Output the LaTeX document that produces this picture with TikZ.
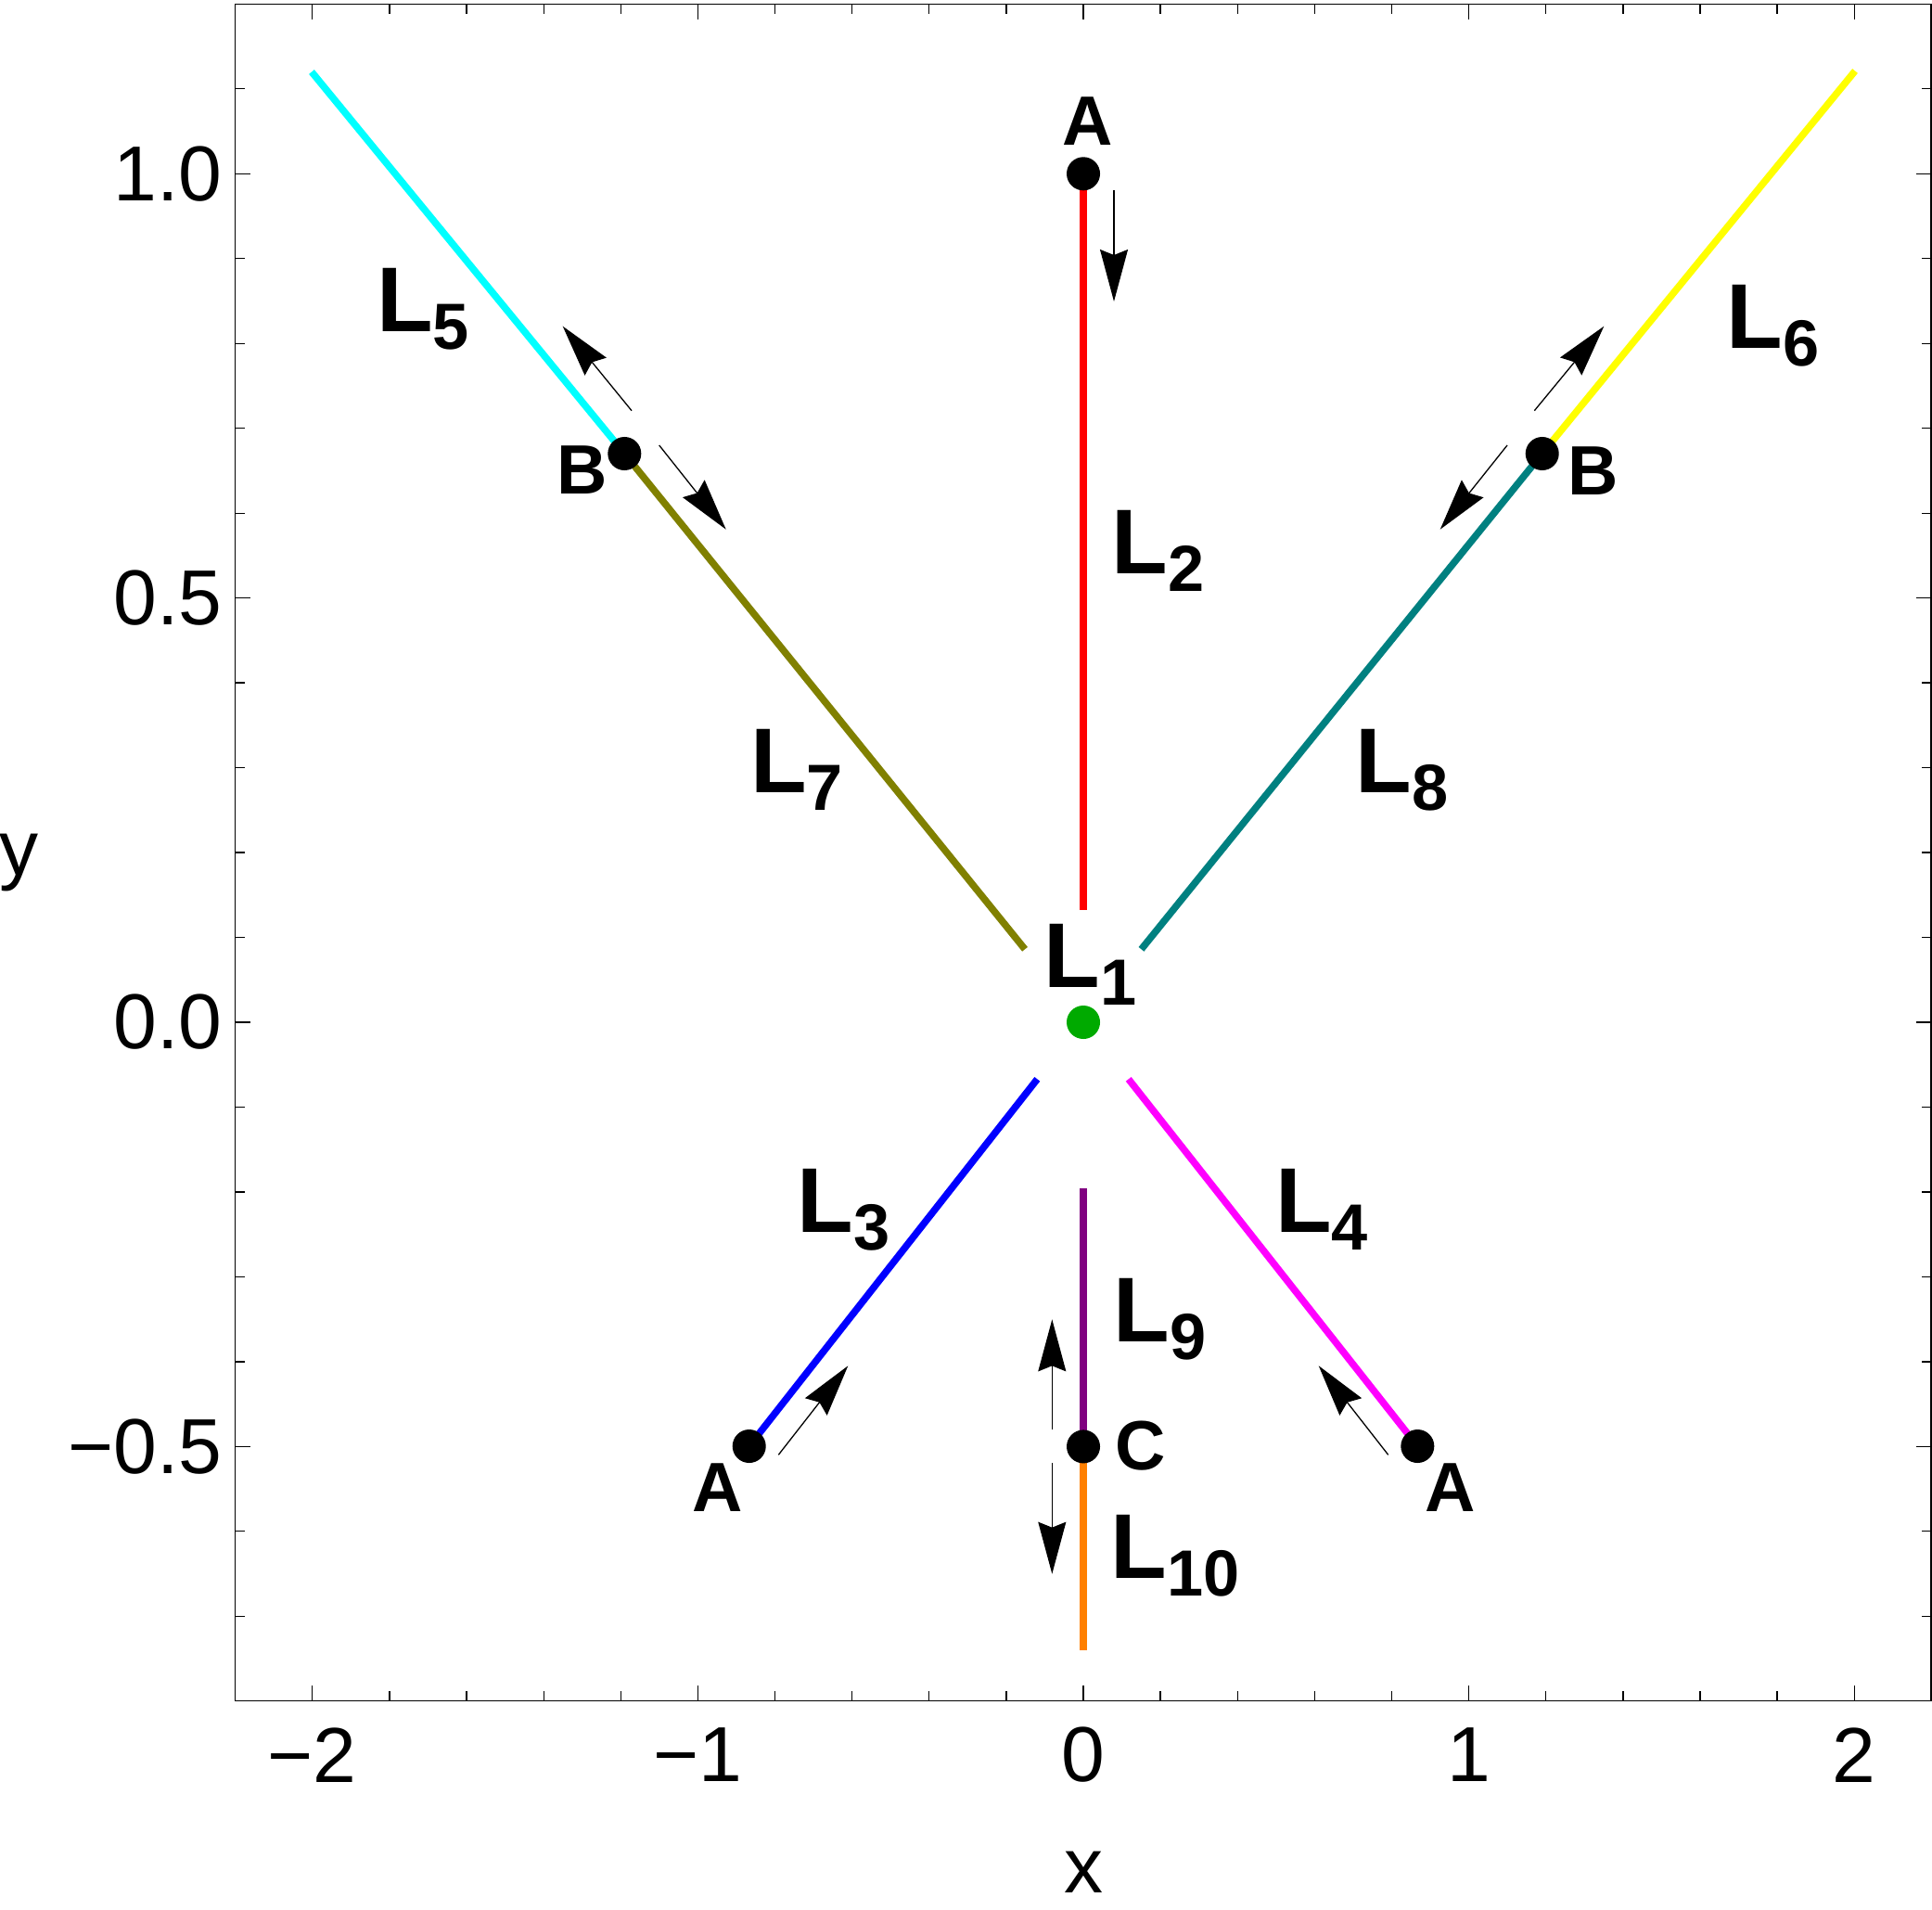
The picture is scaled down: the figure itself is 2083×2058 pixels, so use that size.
\documentclass[tikz,border=0pt]{standalone}
\usepackage{fontspec}
\setmainfont{Liberation Sans}
\usetikzlibrary{arrows.meta}
\definecolor{cL2}{RGB}{255,0,0}
\definecolor{cL3}{RGB}{0,0,255}
\definecolor{cL4}{RGB}{255,0,255}
\definecolor{cL5}{RGB}{0,255,255}
\definecolor{cL6}{RGB}{255,255,0}
\definecolor{cL7}{RGB}{128,128,0}
\definecolor{cL8}{RGB}{0,128,128}
\definecolor{cL9}{RGB}{128,0,128}
\definecolor{cL10}{RGB}{255,128,0}
\definecolor{cgreen}{RGB}{0,170,0}
\newcommand{\Lsub}[1]{{\fontsize{28.2}{30}\selectfont\bfseries L}\raisebox{-0.19cm}{\fontsize{20}{22}\selectfont\bfseries #1}}
\tikzset{
  frameline/.style={line width=0.013cm},
  curve/.style={line width=0.075cm},
  flow/.style={line width=0.013cm,-{Stealth[length=0.56cm,width=0.30cm,inset=0.06cm]}},
  dotnode/.style={circle,fill=black,inner sep=0pt,minimum size=0.36cm},
  ptlabel/.style={font=\fontsize{21.4}{24}\selectfont\bfseries,inner sep=0pt},
  tlabel/.style={font=\fontsize{23.9}{26}\selectfont,inner sep=0pt},
  llabel/.style={inner sep=0pt,anchor=base west},
}
\begin{document}
\begin{tikzpicture}[x=0.01cm,y=-0.01cm]
\useasboundingbox (0,0) rectangle (2083,2058);
% frame
\draw[frameline] (253.5,4.6) rectangle (2082,1833.5);
\foreach \i in {-10,...,10} {
  \pgfmathsetmacro\px{1168+83.12*\i}
  \draw[frameline] (\px,1833.5) -- ++(0,-10.5);
  \draw[frameline] (\px,4.6) -- ++(0,10.5);
}
\foreach \i in {-2,...,2} {
  \pgfmathsetmacro\px{1168+415.6*\i}
  \draw[frameline] (\px,1833.5) -- ++(0,-16.5);
  \draw[frameline] (\px,4.6) -- ++(0,16.5);
}
\foreach \i in {-7,...,11} {
  \pgfmathsetmacro\py{1102-91.47*\i}
  \draw[frameline] (253.5,\py) -- ++(10.5,0);
  \draw[frameline] (2082,\py) -- ++(-10.5,0);
}
\foreach \i in {-5,0,5,10} {
  \pgfmathsetmacro\py{1102-91.47*\i}
  \draw[frameline] (253.5,\py) -- ++(16.5,0);
  \draw[frameline] (2082,\py) -- ++(-16.5,0);
}
% tick labels
\node[tlabel] (xtm2) at (336.8,1892) {−2};
\node[tlabel] (xtm1) at (752.4,1892) {−1};
\node[tlabel] (xt0) at (1168,1892) {0};
\node[tlabel] (xt1) at (1583.6,1892) {1};
\node[tlabel] (xt2) at (1999.2,1892) {2};
\node[tlabel,anchor=east] (ytm05) at (240,1559.35) {−0.5};
\node[tlabel,anchor=east] (yt0) at (240,1102) {0.0};
\node[tlabel,anchor=east] (yt05) at (240,644.65) {0.5};
\node[tlabel,anchor=east] (yt1) at (240,187.3) {1.0};
\node[tlabel,anchor=base] (xlab) at (1168,2040) {x};
\node[tlabel,anchor=base] (ylab) at (21,943.6) {y};
% coordinates
\coordinate (c5s) at (336,77.5);
\coordinate (c6e) at (2000,76.5);
\coordinate (c7e) at (1105,1023.3);
\coordinate (c8e) at (1230.5,1023.3);
\coordinate (c2e) at (1168,981);
\coordinate (c3e) at (1118.3,1163.3);
\coordinate (c4e) at (1216.7,1163.3);
\coordinate (c9e) at (1168,1280.7);
\coordinate (c10e) at (1168,1779);
\coordinate (pAt) at (1168,187.3);
\coordinate (pBl) at (673.3,489);
\coordinate (pBr) at (1662.7,489);
\coordinate (pAl) at (807.7,1559);
\coordinate (pAr) at (1528.3,1559);
\coordinate (pC) at (1168,1559.4);
% curves
\draw[curve,cL5] (c5s) -- (pBl);
\draw[curve,cL7] (pBl) -- (c7e);
\draw[curve,cL6] (pBr) -- (c6e);
\draw[curve,cL8] (pBr) -- (c8e);
\draw[curve,cL2] (pAt) -- (c2e);
\draw[curve,cL3] (pAl) -- (c3e);
\draw[curve,cL4] (pAr) -- (c4e);
\draw[curve,cL9] (pC) -- (c9e);
\draw[curve,cL10] (pC) -- (c10e);
% dots
\node[dotnode] (At) at (pAt) {};
\node[dotnode] (Bl) at (pBl) {};
\node[dotnode] (Br) at (pBr) {};
\node[dotnode] (Al) at (pAl) {};
\node[dotnode] (Ar) at (pAr) {};
\node[dotnode] (Cp) at (pC) {};
\node[dotnode,fill=cgreen] (O) at (1168,1102) {};
% point labels
\node[ptlabel] (lAt) at (1172.7,131) {A};
\node[ptlabel] (lBl) at (627.8,506.7) {B};
\node[ptlabel] (lBr) at (1717.5,507.5) {B};
\node[ptlabel] (lAl) at (774,1603.7) {A};
\node[ptlabel] (lAr) at (1564,1604) {A};
\node[ptlabel] (lC) at (1229.7,1559) {C};
% line labels
\node[llabel] (L1) at (1124.7,1064) {\Lsub{1}};
\node[llabel] (L2) at (1198,618) {\Lsub{2}};
\node[llabel] (L3) at (859,1328) {\Lsub{3}};
\node[llabel] (L4) at (1374.5,1328) {\Lsub{4}};
\node[llabel] (L5) at (405.6,357.8) {\Lsub{5}};
\node[llabel] (L6) at (1861,375) {\Lsub{6}};
\node[llabel] (L7) at (808.6,854) {\Lsub{7}};
\node[llabel] (L8) at (1461,854) {\Lsub{8}};
\node[llabel] (L9) at (1199.7,1446.7) {\Lsub{9}};
\node[llabel] (L10) at (1197,1701.7) {\Lsub{10}};
% flow arrows
\coordinate (f1s) at (1201,205);     \coordinate (f1e) at (1201,325);
\coordinate (f2s) at (681,442.7);    \coordinate (f2e) at (606.7,351.7);
\coordinate (f3s) at (710.7,480);    \coordinate (f3e) at (782.7,570.7);
\coordinate (f4s) at (1654.3,442.7); \coordinate (f4e) at (1729.3,351.7);
\coordinate (f5s) at (1625,480);     \coordinate (f5e) at (1552.7,570.7);
\coordinate (f6s) at (839.3,1568.3); \coordinate (f6e) at (914.3,1472.3);
\coordinate (f7s) at (1496.7,1568.3);\coordinate (f7e) at (1421.7,1472.3);
\coordinate (f8s) at (1134.3,1540.7);\coordinate (f8e) at (1134.3,1422.3);
\coordinate (f9s) at (1134.3,1577.3);\coordinate (f9e) at (1134.3,1696.7);
\foreach \n in {1,...,9} { \draw[flow] (f\n s) -- (f\n e); }
\end{tikzpicture}
\end{document}
